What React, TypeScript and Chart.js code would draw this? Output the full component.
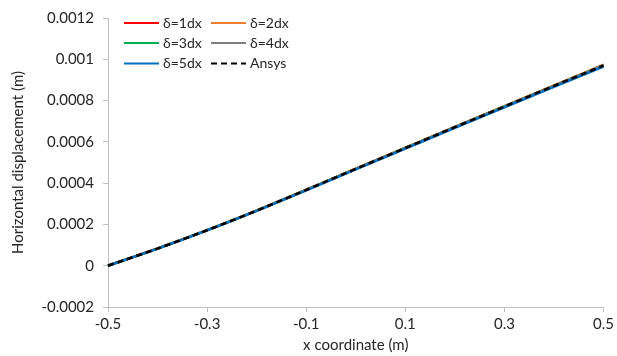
import React, { useEffect, useRef } from "react";
import { Chart, registerables } from "chart.js";

Chart.register(...registerables);

const xCoords = [-0.5, -0.4, -0.3, -0.2, -0.1, 0, 0.1, 0.2, 0.3, 0.4, 0.5];
const delta1 = [0, 0.0000832, 0.0001722, 0.0002673, 0.0003675, 0.0004697, 0.0005709, 0.000672, 0.0007721, 0.0008722, 0.0009712];
const delta2 = [0, 0.0000834, 0.0001726, 0.0002678, 0.0003682, 0.0004705, 0.0005718, 0.000673, 0.0007733, 0.0008735, 0.0009735];
const delta3 = [0, 0.0000831, 0.0001721, 0.0002671, 0.0003672, 0.0004693, 0.0005704, 0.0006714, 0.0007715, 0.0008715, 0.0009705];
const delta4 = [0, 0.000083, 0.000172, 0.000267, 0.0003671, 0.0004691, 0.0005701, 0.0006711, 0.0007711, 0.0008711, 0.0009701];
const delta5 = [0, 0.0000825, 0.000171, 0.0002655, 0.0003651, 0.0004666, 0.0005671, 0.0006676, 0.0007672, 0.0008667, 0.0009652];
const ansys = [0, 0.000083, 0.000172, 0.000267, 0.000367, 0.000469, 0.00057, 0.000671, 0.000771, 0.000871, 0.00097];

const seriesNames = ["δ=1dx", "δ=2dx", "δ=3dx", "δ=4dx", "δ=5dx", "Ansys"];
const seriesColors = ["#ff0000", "#ed7d31", "#00b050", "#7f7f7f", "#0070c0", "#000000"];
const seriesValues = [delta1, delta2, delta3, delta4, delta5, ansys];

const FONT = "Lato, 'Open Sans', sans-serif";
const TEXT = "#262626";
const AXIS = "#bfbfbf";

const legendPlugin = {
  id: "insideLegend",
  afterDatasetsDraw(chart: any) {
    const { ctx, chartArea } = chart;
    const colX = [chartArea.left + 16, chartArea.left + 103];
    const rowY = [chartArea.top + 5, chartArea.top + 25, chartArea.top + 45.5];
    ctx.save();
    ctx.font = `14px ${FONT}`;
    ctx.textBaseline = "middle";
    ctx.textAlign = "left";
    chart.data.datasets.forEach((ds: any, i: number) => {
      const x = colX[i % 2];
      const y = rowY[Math.floor(i / 2)];
      ctx.beginPath();
      ctx.strokeStyle = ds.borderColor;
      ctx.lineWidth = 2;
      ctx.setLineDash(ds.borderDash || []);
      ctx.moveTo(x, y);
      ctx.lineTo(x + 35, y);
      ctx.stroke();
      ctx.setLineDash([]);
      ctx.fillStyle = TEXT;
      ctx.fillText(ds.label, x + 39, y);
    });
    ctx.restore();
  },
};

export default function App() {
  const canvasRef = useRef<HTMLCanvasElement | null>(null);

  useEffect(() => {
    const canvas = canvasRef.current;
    if (!canvas) return;
    const datasets = seriesNames.map((name, i) => ({
      label: name,
      data: xCoords.map((x, j) => ({ x, y: seriesValues[i][j] })),
      borderColor: seriesColors[i],
      backgroundColor: seriesColors[i],
      borderWidth: 2.5,
      borderDash: i === 5 ? [6, 4] : undefined,
      pointRadius: 0,
      tension: 0.4,
      cubicInterpolationMode: "monotone" as const,
      fill: false,
      clip: 6,
      order: seriesNames.length - 1 - i,
    }));
    const chart = new Chart(canvas, {
      type: "line",
      data: { datasets },
      plugins: [legendPlugin],
      options: {
        animation: false,
        responsive: true,
        maintainAspectRatio: false,
        layout: { padding: { left: 0, right: 10, top: 17, bottom: 0 } },
        plugins: {
          legend: { display: false },
          tooltip: { enabled: false },
        },
        scales: {
          x: {
            type: "linear",
            min: -0.5,
            max: 0.5,
            ticks: {
              stepSize: 0.2,
              color: TEXT,
              font: { family: FONT, size: 15 },
              padding: 3,
              maxRotation: 0,
              callback: (v: any) => Number(Number(v).toFixed(1)).toString(),
            },
            grid: { drawOnChartArea: false, drawTicks: true, tickLength: 5, color: AXIS },
            border: { display: true, color: AXIS },
            title: {
              display: true,
              text: "x coordinate (m)",
              color: TEXT,
              font: { family: FONT, size: 15 },
              padding: { top: 0, bottom: 2 },
            },
            afterFit: (scale: any) => {
              scale.height = 49;
            },
          },
          y: {
            type: "linear",
            min: -0.0002,
            max: 0.0012,
            ticks: {
              stepSize: 0.0002,
              color: TEXT,
              font: { family: FONT, size: 15 },
              padding: 9,
              callback: (v: any) => Number(Number(v).toFixed(4)).toString(),
            },
            grid: { drawOnChartArea: false, drawTicks: true, tickLength: 5, color: AXIS },
            border: { display: true, color: AXIS },
            title: {
              display: true,
              text: "Horizontal displacement (m)",
              color: TEXT,
              font: { family: FONT, size: 15 },
              padding: { top: 9, bottom: 0 },
            },
            afterFit: (scale: any) => {
              scale.width = 108;
            },
          },
        },
      },
    });
    return () => chart.destroy();
  }, []);

  return (
    <div style={{ position: "fixed", left: 0, top: 0, width: 617, height: 356, background: "#fff" }}>
      <canvas ref={canvasRef} />
    </div>
  );
}
